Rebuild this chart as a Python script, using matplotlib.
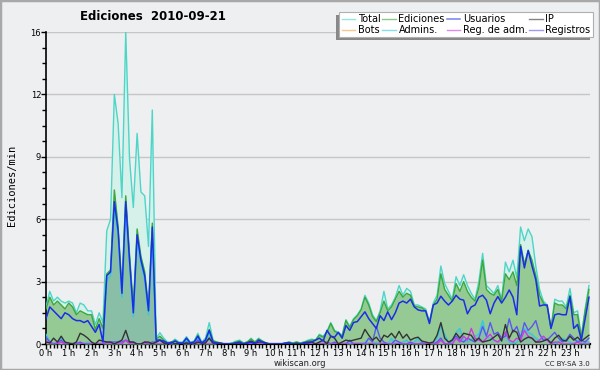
import numpy as np
import matplotlib
matplotlib.use("Agg")
import matplotlib.pyplot as plt
from matplotlib.patches import Rectangle

# ----------------------------------
# DATA (edits per minute, 10-minute bins, 2010-09-21)
# ----------------------------------
total = [
    1.9, 2.7, 2.2, 2.4, 2.2, 2.1,   2.2, 2.1, 1.6, 2.1, 2.0, 1.7,
    1.7, 1.0, 1.6, 1.1, 5.8, 6.4,   12.8, 11.3, 7.5, 16.0, 9.5, 7.0,
    10.8, 7.8, 7.6, 5.0, 12.0, 0.3, 0.58, 0.3, 0.1, 0.1, 0.25, 0.1,
    0.1, 0.38, 0.1, 0.15, 0.55, 0.1, 0.3, 1.1, 0.2, 0.1, 0.05, 0.0,
    0.0, 0.05, 0.15, 0.2, 0.05, 0.1, 0.3, 0.1, 0.3, 0.15, 0.05, 0.0,
    0.0, 0.0, 0.0, 0.05, 0.1, 0.05, 0.1, 0.05, 0.1, 0.2, 0.25, 0.2,
    0.5, 0.4, 0.65, 1.1, 0.7, 0.6,  0.45, 1.25, 0.9, 1.3, 1.5, 1.8,
    2.5, 2.1, 1.5, 1.2, 1.7, 2.7,   1.8, 2.0, 2.4, 3.0, 2.5, 2.85,
    2.7, 2.0, 2.0, 1.9, 1.8, 1.15,  2.1, 2.5, 4.0, 3.1, 2.7, 2.3,
    3.45, 3.0, 3.55, 3.0, 2.6, 2.3, 3.2, 4.65, 3.0, 2.8, 2.6, 3.0,
    2.3, 4.2, 3.7, 4.3, 3.4, 6.0,   5.3, 5.9, 5.5, 4.0, 2.8, 2.2,
    2.0, 0.8, 2.3, 2.2, 2.2, 1.9,   2.85, 1.6, 1.7, 0.4, 1.8, 3.0,
]
ediciones = [
    1.8, 2.4, 2.0, 2.2, 2.0, 1.8,   2.1, 1.9, 1.5, 1.7, 1.6, 1.5,
    1.5, 0.75, 1.3, 0.8, 3.6, 3.8,  7.9, 6.0, 2.9, 7.6, 4.6, 1.9,
    5.9, 4.5, 3.7, 1.9, 6.2, 0.25,  0.4, 0.2, 0.05, 0.05, 0.2, 0.05,
    0.05, 0.3, 0.05, 0.1, 0.45, 0.05, 0.2, 0.75, 0.15, 0.1, 0.05, 0.0,
    0.0, 0.05, 0.1, 0.15, 0.05, 0.1, 0.25, 0.1, 0.25, 0.15, 0.05, 0.0,
    0.0, 0.0, 0.0, 0.05, 0.1, 0.05, 0.1, 0.05, 0.1, 0.15, 0.2, 0.2,
    0.45, 0.35, 0.6, 1.05, 0.65, 0.55, 0.4, 1.2, 0.85, 1.25, 1.45, 1.75,
    2.4, 2.0, 1.4, 1.15, 1.6, 2.2,  1.7, 1.9, 2.3, 2.7, 2.4, 2.6,
    2.5, 1.95, 1.9, 1.85, 1.7, 1.1, 2.0, 2.3, 3.6, 2.8, 2.5, 2.2,
    3.1, 2.7, 3.2, 2.7, 2.4, 2.2,   2.9, 4.3, 2.8, 2.6, 2.5, 2.8,
    2.2, 3.6, 3.3, 3.7, 3.0, 5.1,   4.1, 4.8, 4.3, 3.5, 2.5, 2.1,
    1.9, 0.8, 2.1, 2.0, 2.0, 1.8,   2.5, 1.5, 1.5, 0.35, 1.7, 2.8,
]
usuarios = [
    1.3, 1.9, 1.7, 1.5, 1.3, 1.6,   1.5, 1.3, 1.2, 1.2, 1.1, 1.2,
    0.9, 0.6, 1.0, 0.1, 3.5, 3.7,   7.3, 5.8, 2.6, 7.3, 4.3, 1.6,
    5.6, 4.3, 3.5, 1.7, 6.0, 0.2,   0.2, 0.15, 0.05, 0.05, 0.15, 0.05,
    0.05, 0.3, 0.05, 0.1, 0.4, 0.05, 0.2, 0.7, 0.1, 0.05, 0.0, 0.0,
    0.0, 0.0, 0.05, 0.1, 0.0, 0.05, 0.1, 0.0, 0.2, 0.1, 0.0, 0.0,
    0.0, 0.0, 0.0, 0.05, 0.05, 0.0, 0.0, 0.0, 0.05, 0.1, 0.1, 0.2,
    0.3, 0.15, 0.7, 0.4, 0.35, 0.6, 0.3, 0.95, 0.7, 1.1, 1.15, 1.4,
    1.65, 1.3, 1.05, 0.8, 1.45, 1.2, 1.65, 1.25, 1.6, 2.1, 2.2, 2.1,
    2.3, 1.9, 1.75, 1.7, 1.7, 1.05, 2.0, 2.1, 2.45, 2.2, 2.0, 2.2,
    2.5, 2.3, 2.25, 1.55, 1.9, 2.0, 2.4, 2.5, 2.25, 1.55, 2.1, 2.43,
    2.1, 2.4, 2.77, 2.4, 1.5, 5.0,  3.9, 4.8, 4.0, 3.3, 1.95, 2.0,
    2.0, 0.8, 1.5, 1.55, 1.5, 1.5,  2.43, 0.8, 1.0, 0.2, 1.3, 2.4,
]
ip = [
    0.1, 0.05, 0.3, 0.1, 0.4, 0.1,  0.05, 0.0, 0.1, 0.55, 0.45, 0.3,
    0.1, 0.0, 0.2, 0.15, 0.1, 0.1,  0.0, 0.1, 0.2, 0.7, 0.1, 0.1,
    0.0, 0.0, 0.1, 0.1, 0.0, 0.1,   0.2, 0.05, 0.0, 0.1, 0.0, 0.05,
    0.0, 0.05, 0.0, 0.0, 0.1, 0.05, 0.05, 0.3, 0.05, 0.05, 0.05, 0.0,
    0.0, 0.0, 0.05, 0.05, 0.0, 0.05, 0.15, 0.05, 0.1, 0.1, 0.05, 0.0,
    0.0, 0.0, 0.0, 0.0, 0.05, 0.0,  0.05, 0.0, 0.05, 0.05, 0.1, 0.0,
    0.1, 0.2, 0.0, 0.4, 0.3, 0.0,   0.1, 0.2, 0.15, 0.2, 0.25, 0.3,
    0.75, 0.45, 0.2, 0.35, 0.1, 0.45, 0.35, 0.55, 0.3, 0.65, 0.3, 0.5,
    0.2, 0.3, 0.35, 0.15, 0.1, 0.05, 0.1, 0.45, 1.1, 0.3, 0.1, 0.2,
    0.55, 0.3, 0.55, 0.5, 0.45, 0.15, 0.3, 0.1, 0.15, 0.2, 0.35, 0.5,
    0.15, 1.0, 0.3, 0.7, 0.6, 0.1,  0.25, 0.35, 0.3, 0.1, 0.1, 0.15,
    0.25, 0.05, 0.3, 0.45, 0.2, 0.15, 0.4, 0.2, 0.35, 0.15, 0.3, 0.45,
]
bots = [0.0] * 144
admins = [
    0.5, 0.1, 0.05, 0.0, 0.35, 0.1, 0.0, 0.0, 0.1, 0.0, 0.0, 0.1,
    0.0, 0.0, 0.0, 0.0, 3.3, 3.5,   7.0, 5.5, 2.4, 7.0, 4.1, 1.4,
    5.3, 4.1, 3.3, 1.5, 5.7, 0.1,   0.2, 0.1, 0.0, 0.05, 0.1, 0.0,
    0.0, 0.2, 0.0, 0.05, 0.3, 0.0,  0.05, 0.6, 0.05, 0.0, 0.0, 0.0,
    0.0, 0.0, 0.0, 0.0, 0.0, 0.0,   0.0, 0.0, 0.0, 0.0, 0.0, 0.0,
    0.0, 0.0, 0.0, 0.0, 0.0, 0.0,   0.0, 0.0, 0.0, 0.0, 0.0, 0.0,
    0.0, 0.0, 0.1, 0.0, 0.0, 0.0,   0.0, 0.0, 0.1, 0.0, 0.0, 0.0,
    0.1, 0.0, 0.0, 0.1, 0.0, 0.0,   0.0, 0.3, 0.0, 0.0, 0.1, 0.2,
    0.0, 0.1, 0.3, 0.1, 0.0, 0.0,   0.1, 0.3, 0.9, 0.5, 0.1, 0.0,
    0.6, 0.8, 0.2, 0.1, 0.2, 0.4,   0.5, 1.2, 0.4, 0.3, 0.2, 0.1,
    0.2, 0.5, 0.1, 0.0, 0.1, 0.4,   0.8, 0.6, 0.5, 0.3, 0.2, 0.3,
    0.2, 0.1, 0.0, 0.1, 0.3, 0.2,   0.1, 0.0, 0.2, 0.0, 0.1, 0.1,
]
reg_adm = [
    0.15, 0.05, 0.0, 0.0, 0.1, 0.0] + [0.0] * 12 + [
    0.0, 0.0, 0.0, 0.2, 0.0, 0.0] + [0.0] * 78 + [
    0.0, 0.0, 0.2, 0.0, 0.0, 0.0,   0.3, 0.1, 0.4, 0.2, 0.8, 0.3,
    0.2, 0.1, 0.3, 0.5, 0.2, 0.1,   0.3, 0.6, 0.2, 0.1, 0.3, 0.2,
    0.7, 0.4, 0.3, 0.1, 0.2, 0.4,   0.2, 0.0, 0.1, 0.1, 0.0, 0.0,
    0.0, 0.0, 0.1, 0.0, 0.0, 0.0,
]
registros = [
    0.35, 0.1, 0.0, 0.05, 0.2, 0.0, 0.0, 0.0, 0.0, 0.1, 0.0, 0.0,
    0.0, 0.0, 0.0, 0.0, 0.1, 0.1,   0.1, 0.1, 0.1, 0.2, 0.1, 0.1,
    0.0, 0.0, 0.1, 0.0, 0.1, 0.1,   0.2, 0.1, 0.0, 0.0, 0.0, 0.0,
    0.0, 0.1, 0.0, 0.0, 0.2, 0.0,   0.1, 0.3, 0.0, 0.0, 0.0, 0.0,
    0.0, 0.0, 0.0, 0.0, 0.0, 0.0,   0.0, 0.0, 0.0, 0.0, 0.0, 0.0,
    0.0, 0.0, 0.0, 0.0, 0.0, 0.0,   0.0, 0.0, 0.0, 0.0, 0.0, 0.0,
    0.0, 0.0, 0.1, 0.0, 0.1, 0.0,   0.0, 0.0, 0.2, 0.0, 0.0, 0.0,
    0.0, 0.3, 0.1, 0.9, 0.3, 0.1,   0.0, 0.0, 0.2, 0.1, 0.0, 0.0,
    0.1, 0.0, 0.0, 0.05, 0.0, 0.0,  0.0, 0.1, 0.3, 0.0, 0.0, 0.2,
    0.4, 0.2, 0.1, 0.3, 0.2, 0.1,   0.3, 0.9, 0.4, 1.1, 0.5, 0.6,
    0.3, 0.4, 1.3, 0.6, 0.9, 0.3,   1.1, 0.7, 0.9, 1.2, 0.5, 0.2,
    0.2, 0.4, 0.6, 0.3, 0.1, 0.2,   0.5, 0.3, 0.1, 0.2, 0.1, 0.3,
]

hours = np.arange(len(total)) / 6.0
hour_labels = ["%d h" % h for h in range(24)]
ytick_vals = [0, 3.2, 6.4, 9.6, 12.8, 16]
ytick_labels = ["0", "3", "6", "9", "12", "16"]

BG = "#eeeff1"

# ----------------------------------
# FIGURE
# ----------------------------------
fig = plt.figure(figsize=(6, 3.7), dpi=100, facecolor=BG)
ax = fig.add_axes([46 / 600, 26 / 370, 544 / 600, 312 / 370])
ax.set_facecolor(BG)

# fills
ax.fill_between(hours, 0, total, color="#d6f0ea", lw=0, zorder=1)
ax.fill_between(hours, 0, ediciones, color="#96ca94", lw=0, zorder=2)
ax.fill_between(hours, 0, admins, color="#88bfa6", lw=0, zorder=3)

# lines
lw = 1.0
l_bots, = ax.plot(hours, bots, color="#f0a040", lw=lw, zorder=4, label="Bots")
l_total, = ax.plot(hours, total, color="#4cd6c8", lw=lw, zorder=5, label="Total")
l_ed, = ax.plot(hours, ediciones, color="#3aa83a", lw=lw, zorder=6, label="Ediciones")
l_adm, = ax.plot(hours, admins, color="#38c8de", lw=lw, zorder=7, label="Admins.")
l_reg, = ax.plot(hours, registros, color="#5858f0", lw=lw, zorder=8, label="Registros")
l_radm, = ax.plot(hours, reg_adm, color="#d038e0", lw=lw, zorder=9, label="Reg. de adm.")
l_ip, = ax.plot(hours, ip, color="#333333", lw=lw, zorder=10, label="IP")
l_us, = ax.plot(hours, usuarios, color="#1a2ee6", lw=1.1, zorder=11, label="Usuarios")

# ----------------------------------
# AXES
# ----------------------------------
ax.set_xlim(0, 23.88)
ax.set_ylim(0, 16)
ax.set_xticks(range(24))
ax.set_xticklabels(hour_labels)
ax.set_xticks(hours, minor=True)
ax.set_yticks(ytick_vals)
ax.set_yticklabels(ytick_labels)
ax.set_yticks(np.arange(0, 16.01, 0.8), minor=True)

ax.tick_params(axis="both", which="both", direction="out", color="black",
               labelsize=6, pad=0)
ax.tick_params(axis="both", which="major", length=3.5, width=1)
ax.tick_params(axis="both", which="minor", length=3, width=1)

ax.grid(axis="y", which="major", color="#c6c6c6", lw=1)
ax.set_axisbelow(True)
for s in ["top", "right"]:
    ax.spines[s].set_visible(False)
ax.spines["left"].set_linewidth(1.2)
ax.spines["bottom"].set_linewidth(1.6)

# ----------------------------------
# TEXTS
# ----------------------------------
fig.text(153 / 600, 1 - 16 / 370, "Ediciones  2010-09-21", ha="center",
         va="center", fontsize=8.5, fontweight="bold")
fig.text(12 / 600, 0.5, "Ediciones/min", rotation=90, ha="center",
         va="center", fontsize=7.5, family="DejaVu Sans Mono")
fig.text(300 / 600, 1 - 364 / 370, "wikiscan.org", ha="center", va="center",
         fontsize=6, color="#222222")
fig.text(590 / 600, 1 - 364 / 370, "CC BY-SA 3.0", ha="right", va="center",
         fontsize=5, color="#222222")

handles = [l_total, l_bots, l_ed, l_adm, l_us, l_radm, l_ip, l_reg]
leg = fig.legend(handles=handles, ncol=4, loc="upper right",
                 bbox_to_anchor=(593 / 600, 1 - 12 / 370), fontsize=7,
                 frameon=True, fancybox=False, borderpad=0.25,
                 handlelength=1.4, handletextpad=0.25, columnspacing=0.2,
                 labelspacing=0.05, borderaxespad=0)
leg.get_frame().set_edgecolor("#b0b0b0")
leg.get_frame().set_linewidth(0.8)
leg.get_frame().set_facecolor("white")
leg.get_frame().set_alpha(1)
for line in leg.get_lines():
    line.set_alpha(0.6)
leg.set_zorder(20)

# legend shadow
fig.canvas.draw()
bb = leg.get_window_extent().transformed(fig.transFigure.inverted())
fig.patches.append(Rectangle((bb.x0 - 3 / 600, bb.y0 - 3 / 370), bb.width,
                             bb.height, transform=fig.transFigure,
                             facecolor="#888888", edgecolor="none", zorder=15))

# outer frame
fig.patches.append(Rectangle((0, 0), 1, 1, transform=fig.transFigure,
                             facecolor="none", edgecolor="#a8a8a8", lw=2.5))

fig.savefig("out.png", dpi=100, facecolor=BG)
